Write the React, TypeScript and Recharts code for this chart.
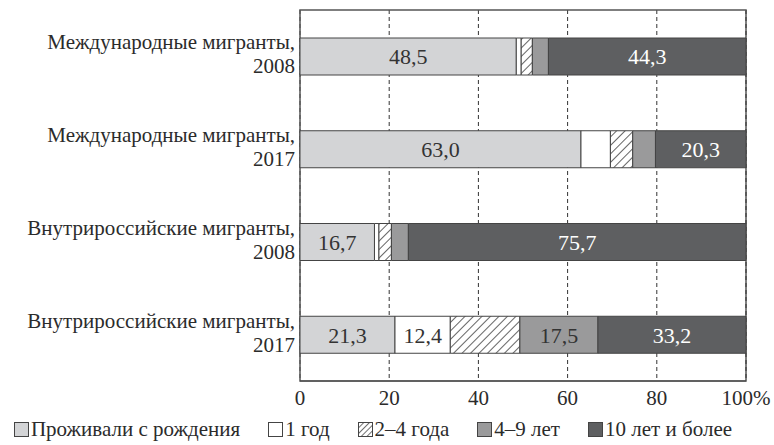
import { BarChart, Bar, XAxis, YAxis, CartesianGrid, ReferenceArea, Legend, LabelList } from 'recharts';

const groups = ['Международные мигранты,', 'Международные мигранты,', 'Внутрироссийские мигранты,', 'Внутрироссийские мигранты,'];
const years = ['2008', '2017', '2008', '2017'];

const birth = [48.5, 63.0, 16.7, 21.3];
const oneYear = [1.1, 6.6, 1.0, 12.4];
const twoFour = [2.5, 5.0, 2.8, 15.6];
const fourNine = [3.6, 5.1, 3.8, 17.5];
const tenPlus = [44.3, 20.3, 75.7, 33.2];

const xTicks = [0, 20, 40, 60, 80, 100];

const seriesNames = ['Проживали с рождения', '1 год', '2–4 года', '4–9 лет', '10 лет и более'];

const data = groups.map((g, i) => ({
  key: i,
  birth: birth[i],
  oneYear: oneYear[i],
  twoFour: twoFour[i],
  fourNine: fourNine[i],
  tenPlus: tenPlus[i],
}));

const FONT = '"Liberation Serif", serif';
const TEXT = '#2b2b2b';
const EDGE = '#444';

const series = [
  { key: 'birth', fill: '#d3d4d6', text: '#333' },
  { key: 'oneYear', fill: '#ffffff', text: '#333' },
  { key: 'twoFour', fill: 'url(#hatch)', text: '#333' },
  { key: 'fourNine', fill: '#9a9a9b', text: '#333' },
  { key: 'tenPlus', fill: '#5e5f61', text: '#ffffff' },
];

const fmt = (v: number) => v.toFixed(1).replace('.', ',');

function CategoryTick(props: any) {
  const { x, y, payload } = props;
  const i = payload.value as number;
  return (
    <text x={x + 3} y={y} textAnchor="end" fontFamily={FONT} fontSize={21} fill={TEXT}>
      <tspan x={x + 3} dy={-7}>{groups[i]}</tspan>
      <tspan x={x + 3} dy={24}>{years[i]}</tspan>
    </text>
  );
}

function LegendIcon({ fill }: { fill: string }) {
  return (
    <svg width={15} height={15} style={{ marginRight: 2 }}>
      <defs>
        <pattern id="hatchLegend" width={4} height={4} patternUnits="userSpaceOnUse" patternTransform="rotate(45)">
          <rect width={4} height={4} fill="#fff" />
          <line x1={0} y1={0} x2={0} y2={4} stroke="#333" strokeWidth={1.4} />
        </pattern>
      </defs>
      <rect x={0.5} y={0.5} width={14} height={14} fill={fill === 'url(#hatch)' ? 'url(#hatchLegend)' : fill} stroke={EDGE} strokeWidth={1} />
    </svg>
  );
}

function LegendContent() {
  return (
    <div style={{ display: 'flex', justifyContent: 'center', gap: 28, fontFamily: FONT, fontSize: 21, color: TEXT, whiteSpace: 'nowrap', lineHeight: '24px' }}>
      {series.map((s, i) => (
        <span key={s.key} style={{ display: 'flex', alignItems: 'center' }}>
          <LegendIcon fill={s.fill} />
          {seriesNames[i]}
        </span>
      ))}
    </div>
  );
}

export default function App() {
  return (
    <div style={{ position: 'absolute', left: 0, top: 0, width: 774, height: 445, background: '#fff' }}>
      <BarChart
        width={774}
        height={445}
        data={data}
        layout="vertical"
        margin={{ top: 10, right: 28, left: 0, bottom: 4 }}
        barSize={37}
      >
        <defs>
          <pattern id="hatch" width={6} height={6} patternUnits="userSpaceOnUse" patternTransform="rotate(45)">
            <rect width={6} height={6} fill="#fff" />
            <line x1={0} y1={0} x2={0} y2={6} stroke="#222" strokeWidth={1.4} />
          </pattern>
        </defs>
        <CartesianGrid horizontal={false} strokeDasharray="4 3" stroke="#333" />
        <XAxis
          type="number"
          domain={[0, 100]}
          ticks={xTicks}
          height={36}
          tickFormatter={(v: number) => (v === 100 ? '100%' : String(v))}
          tick={{ fontFamily: FONT, fontSize: 21, fill: TEXT }}
          tickLine={false}
          axisLine={{ stroke: EDGE }}
          tickMargin={3}
        />
        <YAxis
          type="category"
          dataKey="key"
          width={300}
          tick={<CategoryTick />}
          tickLine={false}
          axisLine={false}
        />
        {series.map((s) => (
          <Bar
            key={s.key}
            dataKey={s.key}
            stackId="a"
            fill={s.fill}
            stroke={EDGE}
            strokeWidth={1}
            isAnimationActive={false}
          >
            <LabelList
              dataKey={s.key}
              position="center"
              formatter={(v: any) => (s.key !== 'twoFour' && v >= 10 ? fmt(v) : '')}
              style={{ fontFamily: FONT, fontSize: 22, fill: s.text }}
            />
          </Bar>
        ))}
        <ReferenceArea x1={0} x2={100} fill="none" stroke="#555" strokeWidth={1.5} ifOverflow="visible" />
        <Legend verticalAlign="bottom" content={<LegendContent />} />
      </BarChart>
    </div>
  );
}
